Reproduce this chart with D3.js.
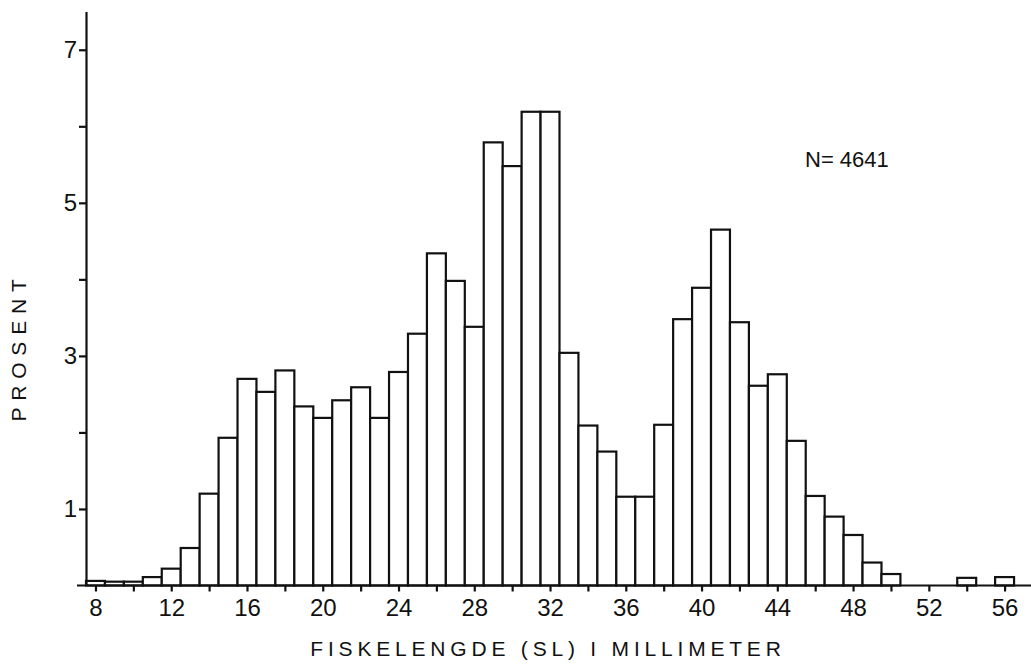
<!DOCTYPE html>
<meta charset="utf-8">
<head>
  <title>Fiskelengde</title>
</head>
<style>
  body { margin: 0; background: white; }
  text {
    font-family: "Liberation Sans", Arial, Helvetica, sans-serif;
    fill: #111;
  }
  .bar { fill: white; stroke: #111; stroke-width: 2.2; }
  .axis path, .axis line { stroke: #111; stroke-width: 2.2; }
</style>
<body>
<div id="chart"></div>
<script src="https://d3js.org/d3.v7.min.js"></script>
<script>

var lengths = [8, 9, 10, 11, 12, 13, 14, 15, 16, 17, 18, 19, 20, 21, 22, 23, 24,
  25, 26, 27, 28, 29, 30, 31, 32, 33, 34, 35, 36, 37, 38, 39, 40, 41, 42, 43, 44,
  45, 46, 47, 48, 49, 50, 51, 52, 53, 54, 55, 56];

var percent = [0.06, 0.05, 0.05, 0.11, 0.22, 0.49, 1.20, 1.93, 2.70, 2.53, 2.81,
  2.34, 2.19, 2.42, 2.59, 2.19, 2.79, 3.29, 4.34, 3.98, 3.38, 5.79, 5.48, 6.19,
  6.19, 3.04, 2.09, 1.75, 1.16, 1.16, 2.10, 3.48, 3.89, 4.65, 3.44, 2.61, 2.76,
  1.89, 1.17, 0.90, 0.66, 0.30, 0.15, 0, 0, 0, 0.10, 0, 0.11];

var xTicks = [8, 10, 12, 14, 16, 18, 20, 22, 24, 26, 28, 30, 32, 34, 36, 38, 40,
  42, 44, 46, 48, 50, 52, 54, 56];
var xLabels = [8, 12, 16, 20, 24, 28, 32, 36, 40, 44, 48, 52, 56];
var yTicks = [1, 2, 3, 4, 5, 6, 7];
var yLabels = [1, 3, 5, 7];

var xTitle = "FISKELENGDE (SL) I MILLIMETER";
var yTitle = "PROSENT";
var note = "N= 4641";

var width = 1031, height = 670;

var x = d3.scaleLinear().domain([7.5, 57.5]).range([86, 1033]);
var y = d3.scaleLinear().domain([0, 7.5]).range([585.5, 11.5]);

var svg = d3.select("#chart")
  .append("svg")
  .attr("width", width)
  .attr("height", height);

var data = lengths.map(function(d, i) {
  return { len: d, pct: percent[i] };
}).filter(function(d) { return d.pct > 0; });

svg.selectAll(null)
  .data(data)
  .enter()
  .append("rect")
  .attr("class", "bar")
  .attr("x", function(d) { return x(d.len - 0.5); })
  .attr("width", function(d) { return x(d.len + 0.5) - x(d.len - 0.5); })
  .attr("y", function(d) { return y(d.pct); })
  .attr("height", function(d) { return y(0) - y(d.pct); });

// x axis
var xAxis = d3.axisBottom(x)
  .tickValues(xTicks)
  .tickSize(6)
  .tickSizeOuter(0)
  .tickPadding(7)
  .tickFormat(function(d) { return xLabels.indexOf(d) >= 0 ? d : ""; });

var gx = svg.append("g")
  .attr("class", "axis")
  .attr("transform", "translate(0," + y(0) + ")")
  .call(xAxis);
gx.select(".domain").remove();
gx.append("line")
  .attr("x1", x(7.5) - 9)
  .attr("x2", width)
  .attr("y1", 0)
  .attr("y2", 0);
gx.selectAll("text")
  .style("font-size", "24px")
  .attr("dy", "0.72em");

// y axis
var yAxis = d3.axisLeft(y)
  .tickValues(yTicks)
  .tickSize(7)
  .tickSizeOuter(0)
  .tickPadding(2)
  .tickFormat(function(d) { return yLabels.indexOf(d) >= 0 ? d : ""; });

var gy = svg.append("g")
  .attr("class", "axis")
  .attr("transform", "translate(" + x(7.5) + ",0)")
  .call(yAxis);
gy.selectAll("text")
  .style("font-size", "24px");

// titles
svg.append("text")
  .attr("x", 548)
  .attr("y", 656)
  .attr("text-anchor", "middle")
  .style("font-size", "21px")
  .style("letter-spacing", "4.8px")
  .text(xTitle);

svg.append("text")
  .attr("transform", "translate(26,347) rotate(-90)")
  .attr("text-anchor", "middle")
  .style("font-size", "21px")
  .style("letter-spacing", "6.8px")
  .text(yTitle);

svg.append("text")
  .attr("x", 805)
  .attr("y", 167)
  .style("font-size", "22px")
  .text(note);

</script>
</body>
